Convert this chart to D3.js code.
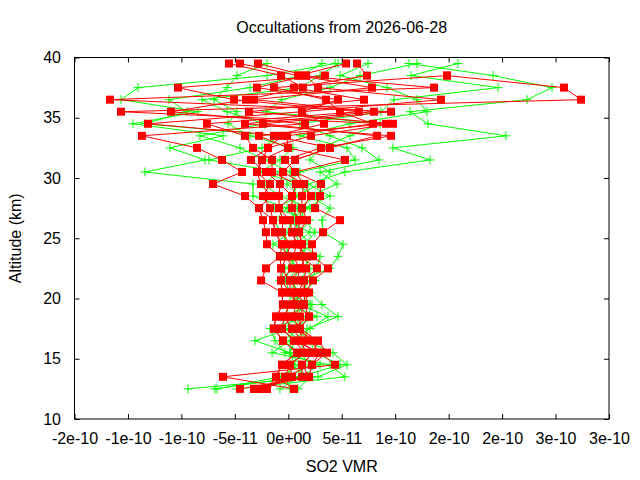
<!DOCTYPE html>
<html><head><meta charset="utf-8">
<script src="https://cdn.jsdelivr.net/npm/d3@7"></script>
<style>html,body{margin:0;padding:0;background:#fff;} svg{display:block;font-family:"Liberation Sans",Arial,sans-serif;}</style>
</head><body><svg id="c" width="640" height="480"></svg>
<script>
// Altitude levels (km)
const altitudes = [12.5,13.5,14.5,15.5,16.5,17.5,18.5,19.5,20.5,21.5,22.5,23.5,24.5,25.5,26.5,27.5,28.5,29.5,30.5,31.5,32.5,33.5,34.5,35.5,36.5,37.5,38.5,39.5];
// SO2 VMR values, written in units of 1e-11 (null = no point)
const UNIT = 1e-11;
const red1 = [-4.52,1.94,2.22,3.62,2.78,1.09,1.94,1.47,0.91,1.47,1.66,1.09,1.28,1.00,1.75,1.28,2.12,1.47,-0.50,0.63,3.90,8.30,-2.37,9.61,-16.68,13.63,0.91,5.40];
const red2 = [-3.21,1.28,1.28,2.31,1.28,0.35,-0.40,0.16,1.56,2.31,3.71,2.31,2.22,3.25,4.84,2.50,2.97,3.06,0.63,5.30,-0.03,-2.74,9.14,-15.65,27.38,25.79,14.85,null];
const red3 = [-2.46,-0.31,0.16,1.56,0.53,-0.59,0.35,0.81,0.16,-0.68,0.35,-0.12,-0.59,-1.24,-1.43,-1.71,-2.37,-1.71,-2.93,-2.46,-1.90,-0.59,-13.12,1.28,4.65,-2.93,1.66,-2.83];
const red4 = [-1.99,-1.15,-0.59,0.81,-0.50,-1.34,-1.15,-0.50,-0.59,-2.55,-2.09,-0.78,-1.99,-2.09,-2.37,-2.74,-4.05,-7.04,-4.33,-6.20,-8.54,-13.69,1.56,-10.97,-3.96,1.38,-0.68,-5.55];
const red5 = [0.53,-6.11,4.37,2.97,2.03,1.09,1.09,1.47,1.94,0.81,1.09,1.66,0.81,0.35,1.00,0.35,0.35,0.72,-1.52,-1.52,-3.30,-4.05,-7.61,6.61,-5.08,-10.32,3.43,null];
const red6 = [-3.21,1.94,1.28,2.31,2.78,0.35,1.94,0.81,0.16,0.16,-0.68,-0.12,0.16,-0.59,-0.50,-0.87,-0.87,-0.78,-2.09,-3.49,-1.90,2.12,9.79,-3.68,7.08,0.53,7.36,6.43];
const red7 = [-2.46,0.35,0.16,1.56,1.28,1.09,0.35,1.47,1.56,1.47,2.68,1.09,1.28,1.00,1.00,1.28,1.28,1.47,0.63,-0.31,3.06,9.61,-4.05,8.02,-3.21,7.83,0.91,-4.52];
const red8 = [-1.99,-0.31,2.22,2.97,0.53,-0.59,-0.40,0.16,0.91,0.16,1.09,0.44,0.81,0.35,0.16,-0.87,0.35,-0.78,-0.50,0.63,3.90,-1.34,3.34,1.28,14.28,2.78,1.66,null];
const red9 = [0.53,-1.15,-0.59,0.81,-0.50,-1.34,-1.15,-0.50,-0.59,-0.68,-0.68,-0.78,-0.59,-1.24,-1.43,-2.74,-1.62,-2.55,-2.93,-2.46,-0.03,-0.12,7.92,4.84,3.53,-1.34,14.85,null];

const green1 = [-9.38,2.78,5.49,4.18,1.56,1.75,4.65,3.15,2.03,1.09,3.90,4.65,5.12,3.25,3.15,3.90,2.03,4.56,2.97,8.48,6.89,3.90,1.09,8.67,9.89,19.62,11.48,15.87];
const green2 = [-6.86,1.09,2.97,-0.31,-1.24,-1.71,1.84,2.22,1.09,2.03,2.68,2.97,1.09,0.63,1.09,1.56,3.90,1.84,5.30,13.26,9.79,20.36,13.07,11.38,22.33,24.67,19.15,11.29];
const green3 = [-6.67,-0.78,1.09,0.16,-3.12,0.16,2.68,0.16,0.16,-0.31,0.16,0.63,-1.43,0.16,0.16,0.91,0.16,1.09,-2.65,-0.78,0.44,-3.58,-5.64,-4.80,-6.95,-5.73,-4.80,-1.99];
const green4 = [-4.80,5.30,3.90,-1.52,0.16,2.03,3.71,1.09,0.63,0.44,1.09,-0.31,0.16,-0.78,-1.24,-0.12,-3.30,-3.30,-13.41,-7.79,-11.07,-6.11,-14.53,-8.45,-15.65,-14.06,-1.99,4.37];
const green5 = [0.91,2.03,0.16,1.56,1.09,-0.31,0.63,1.56,-0.50,-0.78,-0.31,1.09,2.03,1.09,2.03,-1.24,1.09,-0.12,1.09,6.24,5.49,1.09,5.77,12.97,12.04,9.23,4.84,7.46];
const green6 = [-2.46,0.16,2.03,1.09,-0.50,1.09,0.16,-0.31,1.56,2.50,1.56,2.03,0.63,2.03,-0.31,2.03,-0.78,-2.37,-0.78,-7.42,-2.46,-0.78,-13.41,-9.48,-11.16,-3.58,1.09,3.15];
const green7 = [-0.78,1.09,4.84,2.50,2.03,0.63,1.09,0.63,1.09,0.16,0.63,0.16,-0.31,-0.31,0.63,0.16,0.63,2.97,3.90,2.03,2.97,5.77,8.58,-2.09,-0.59,3.90,6.71,12.04];
const green8 = [0.16,-0.31,0.63,0.16,0.63,-0.59,-0.31,2.03,-0.03,0.91,2.03,1.38,1.56,2.50,1.56,1.09,2.50,0.63,0.16,-2.18,-4.52,-8.26,-2.18,-5.73,-8.07,1.09,2.97,4.65];

const xTickValues = [-2e-10,-1.5e-10,-1e-10,-5e-11,0,5e-11,1e-10,1.5e-10,2e-10,2.5e-10,3e-10];
const xTickLabels = ["-2e-10","-1e-10","-1e-10","-5e-11","0e+00","5e-11","1e-10","2e-10","2e-10","3e-10","3e-10"];
const yTickValues = [10,15,20,25,30,35,40];
const yTickLabels = ["10","15","20","25","30","35","40"];

const titleText = "Occultations from 2026-06-28";
const xLabel = "SO2 VMR";
const yLabel = "Altitude (km)";

const redSeries = [red1,red2,red3,red4,red5,red6,red7,red8,red9];
const greenSeries = [green1,green2,green3,green4,green5,green6,green7,green8];

const svg = d3.select("#c");
const L = 74.5, R = 609, T = 57.5, B = 419;
const xs = d3.scaleLinear().domain([-2e-10, 3e-10]).range([L, R]);
const ys = d3.scaleLinear().domain([10, 40]).range([B, T]);

const toPts = arr => arr.map((v, i) => ({v: v == null ? null : v * UNIT, a: altitudes[i]}));
const lineGen = d3.line().defined(d => d.v != null).x(d => xs(d.v)).y(d => ys(d.a));

const plot = svg.append("g");
greenSeries.forEach(s => {
  const pts = toPts(s);
  plot.append("path").attr("d", lineGen(pts)).attr("fill","none").attr("stroke","#00ff00").attr("stroke-width",1);
  const g = plot.append("g");
  pts.filter(d => d.v != null).forEach(d => {
    const cx = xs(d.v), cy = ys(d.a);
    g.append("path").attr("d", `M${cx-4.5},${cy}H${cx+4.5}M${cx},${cy-4.5}V${cy+4.5}`).attr("stroke","#00ff00").attr("stroke-width",1);
  });
});
redSeries.forEach(s => {
  const pts = toPts(s);
  plot.append("path").attr("d", lineGen(pts)).attr("fill","none").attr("stroke","#ff0000").attr("stroke-width",1);
  plot.append("g").selectAll("rect").data(pts.filter(d => d.v != null)).join("rect")
    .attr("x", d => xs(d.v) - 4).attr("y", d => ys(d.a) - 4).attr("width", 8).attr("height", 8).attr("fill","#ff0000");
});

const fs = 16;
const FONT = '"Liberation Sans",Arial,sans-serif';
const ax = svg.append("g");
const gB = ax.append("g").attr("transform", `translate(0,${B})`)
  .call(d3.axisBottom(xs).tickValues(xTickValues).tickFormat((d,i) => xTickLabels[i]).tickSizeInner(-5).tickSizeOuter(0).tickPadding(13.5));
const gT = ax.append("g").attr("transform", `translate(0,${T})`)
  .call(d3.axisTop(xs).tickValues(xTickValues).tickFormat("").tickSizeInner(-5).tickSizeOuter(0));
const gL = ax.append("g").attr("transform", `translate(${L},0)`)
  .call(d3.axisLeft(ys).tickValues(yTickValues).tickFormat((d,i) => yTickLabels[i]).tickSizeInner(-5).tickSizeOuter(0).tickPadding(13.5));
const gR = ax.append("g").attr("transform", `translate(${R},0)`)
  .call(d3.axisRight(ys).tickValues(yTickValues).tickFormat("").tickSizeInner(-5).tickSizeOuter(0));
[gB, gT, gL, gR].forEach(g => g.attr("font-size", fs).attr("font-family", FONT));
ax.selectAll(".domain").remove();
ax.selectAll("text").attr("fill","#000");
ax.selectAll("line").attr("stroke","#000");
svg.append("rect").attr("x",L).attr("y",T).attr("width",R-L).attr("height",B-T).attr("fill","none").attr("stroke","#000").attr("stroke-width",1);

svg.append("text").attr("x",(L+R)/2).attr("y",33).attr("text-anchor","middle").attr("font-size",fs).attr("font-family",FONT).text(titleText);
svg.append("text").attr("x",(L+R)/2).attr("y",472).attr("text-anchor","middle").attr("font-size",fs).attr("font-family",FONT).text(xLabel);
svg.append("text").attr("transform",`translate(21,${(T+B)/2}) rotate(-90)`).attr("text-anchor","middle").attr("font-size",fs).attr("font-family",FONT).text(yLabel);
</script></body></html>
